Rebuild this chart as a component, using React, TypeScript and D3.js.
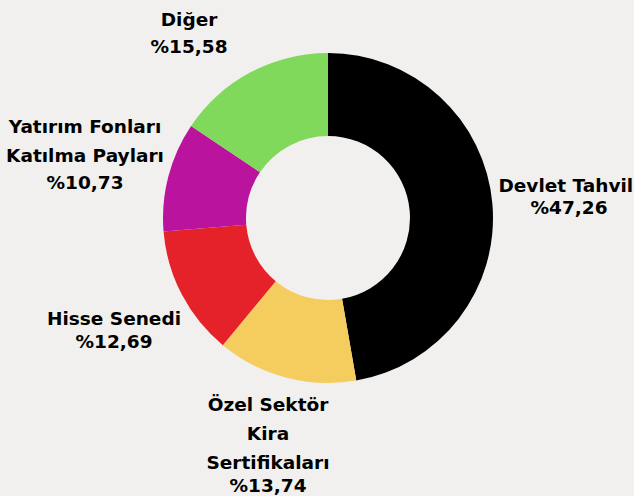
import React from "react";
import * as d3 from "d3";

const categories = ["Devlet Tahvili", "Özel Sektör Kira Sertifikaları", "Hisse Senedi", "Yatırım Fonları Katılma Payları", "Diğer"];
const values = [47.26, 13.74, 12.69, 10.73, 15.58];
const valueLabels = ["%47,26", "%13,74", "%12,69", "%10,73", "%15,58"];
const nameLines = [
  ["Devlet Tahvili"],
  ["Özel Sektör", "Kira", "Sertifikaları"],
  ["Hisse Senedi"],
  ["Yatırım Fonları", "Katılma Payları"],
  ["Diğer"],
];
const colors = ["#000000", "#f5cd5f", "#e52229", "#ba139e", "#80d95a"];

// label layout (centre x, baselines of each line)
const labelLayout = [
  { x: 569, ys: [192, 214] },
  { x: 268, ys: [411, 440, 469, 492] },
  { x: 114, ys: [325, 348] },
  { x: 85, ys: [133, 162, 189] },
  { x: 189, ys: [26, 53] },
];

const W = 634;
const H = 496;
const cx = 328;
const cy = 218;
const outerR = 165;
const innerR = 82;

export default function App() {
  const pie = d3.pie<number>().sort(null).value((d) => d)(values);
  const arc = d3.arc<d3.PieArcDatum<number>>().innerRadius(innerR).outerRadius(outerR);
  return (
    <svg
      width={W}
      height={H}
      style={{ position: "fixed", left: 0, top: 0, display: "block" }}
    >
      <rect width={W} height={H} fill="#f1f0ee" />
      <g transform={`translate(${cx},${cy})`}>
        {pie.map((p, i) => (
          <path key={categories[i]} d={arc(p) || ""} fill={colors[i]} />
        ))}
      </g>
      {categories.map((c, i) => {
        const lines = [...nameLines[i], valueLabels[i]];
        const lay = labelLayout[i];
        return (
          <text
            key={c}
            textAnchor="middle"
            fontFamily="'DejaVu Sans', sans-serif"
            fontWeight={700}
            fontSize={18.5}
            fill="#000"
          >
            {lines.map((l, j) => (
              <tspan key={j} x={lay.x} y={lay.ys[j]}>
                {l}
              </tspan>
            ))}
          </text>
        );
      })}
    </svg>
  );
}
